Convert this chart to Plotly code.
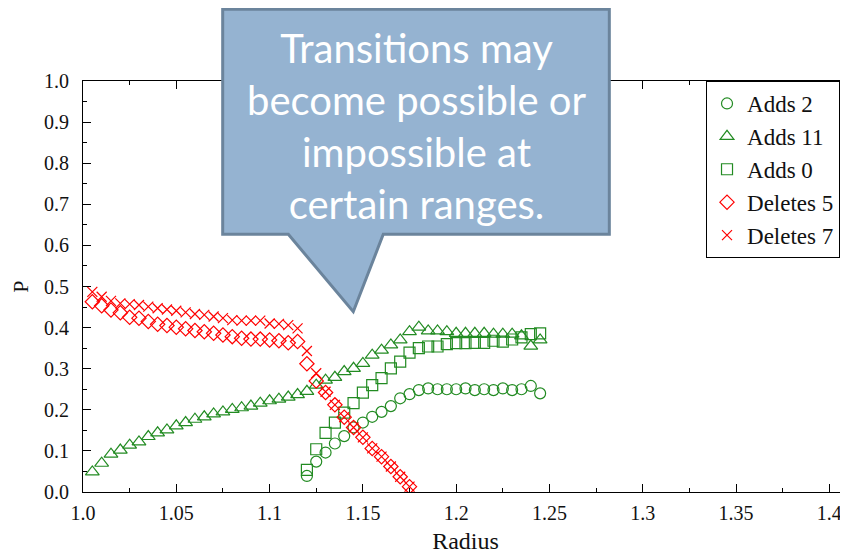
import plotly.graph_objects as go

# ---- data ----
x_adds11 = [round(1.005 + 0.005 * i, 3) for i in range(49)]
adds11 = [0.049, 0.070, 0.092, 0.102, 0.114, 0.122, 0.135, 0.144, 0.151, 0.161,
          0.169, 0.177, 0.183, 0.190, 0.195, 0.201, 0.205, 0.209, 0.216, 0.222,
          0.226, 0.231, 0.237, 0.245, 0.260, 0.272, 0.279, 0.293, 0.301, 0.313,
          0.333, 0.345, 0.358, 0.370, 0.390, 0.401, 0.392, 0.392, 0.390, 0.386,
          0.386, 0.386, 0.386, 0.384, 0.384, 0.384, 0.380, 0.355, 0.370]

x_adds = [round(1.120 + 0.005 * i, 3) for i in range(26)]
adds2 = [0.039, 0.074, 0.096, 0.118, 0.136, 0.157, 0.169, 0.183, 0.195, 0.209,
         0.228, 0.238, 0.248, 0.252, 0.250, 0.250, 0.250, 0.252, 0.248, 0.250,
         0.248, 0.252, 0.248, 0.250, 0.258, 0.240]
adds0 = [0.054, 0.104, 0.144, 0.169, 0.193, 0.216, 0.242, 0.260, 0.277, 0.301,
         0.317, 0.339, 0.350, 0.354, 0.354, 0.360, 0.362, 0.362, 0.363, 0.363,
         0.368, 0.366, 0.371, 0.376, 0.384, 0.386]

x_del = [round(1.005 + 0.005 * i, 3) for i in range(35)]
deletes5 = [0.463, 0.453, 0.443, 0.436, 0.425, 0.423, 0.415, 0.408, 0.405, 0.401,
            0.397, 0.393, 0.390, 0.386, 0.382, 0.378, 0.374, 0.372, 0.372, 0.370,
            0.368, 0.363, 0.366, 0.312, 0.270, 0.242, 0.212, 0.182, 0.157, 0.133,
            0.106, 0.086, 0.062, 0.037, 0.013]
deletes7 = [0.487, 0.475, 0.465, 0.459, 0.457, 0.455, 0.451, 0.447, 0.444, 0.441,
            0.437, 0.433, 0.431, 0.427, 0.423, 0.418, 0.417, 0.417, 0.417, 0.410,
            0.409, 0.406, 0.398, 0.343, 0.289, 0.244, 0.212, 0.182, 0.157, 0.133,
            0.106, 0.086, 0.062, 0.037, 0.013]

x_ticks = [1.0, 1.05, 1.1, 1.15, 1.2, 1.25, 1.3, 1.35, 1.4]
x_ticklabels = ["1.0", "1.05", "1.1", "1.15", "1.2", "1.25", "1.3", "1.35", "1.4"]
y_ticks = [0.0, 0.1, 0.2, 0.3, 0.4, 0.5, 0.6, 0.7, 0.8, 0.9, 1.0]
y_ticklabels = ["0.0", "0.1", "0.2", "0.3", "0.4", "0.5", "0.6", "0.7", "0.8", "0.9", "1.0"]

callout_text = "Transitions may<br>become possible or<br>impossible at<br>certain ranges."

GREEN = "#228B22"
RED = "#FF0000"
SERIF = "Liberation Serif, Times New Roman, serif"

fig = go.Figure()

def add(name, xs, ys, symbol, color, size):
    fig.add_trace(go.Scatter(
        x=xs, y=ys, mode="markers", name=name,
        marker=dict(symbol=symbol, color=color, size=size,
                    line=dict(color=color, width=1.2)),
    ))

add("Adds 2", x_adds, adds2, "circle-open", GREEN, 11)
add("Adds 11", x_adds11, adds11, "triangle-up-open", GREEN, 12)
add("Adds 0", x_adds, adds0, "square-open", GREEN, 11)
add("Deletes 5", x_del, deletes5, "diamond-open", RED, 11)
add("Deletes 7", x_del, deletes7, "x-thin-open", RED, 10)

# callout balloon (paper coordinates)
L, R, T, B = 0.1826, 0.688, 1.1745, 0.627
bl, br, tx, ty = 0.2684, 0.3925, 0.3533, 0.4387
path = f"M {L},{T} L {R},{T} L {R},{B} L {br},{B} L {tx},{ty} L {bl},{B} L {L},{B} Z"
fig.add_shape(type="path", path=path, xref="paper", yref="paper",
              fillcolor="#95B3D1", line=dict(color="#6B849C", width=3),
              layer="above")
fig.add_annotation(text=callout_text, xref="paper", yref="paper",
                   x=0.4353, y=0.8917, xanchor="center", yanchor="middle",
                   showarrow=False,
                   font=dict(family="Lato, Open Sans, sans-serif", size=40, color="white"))

axis_common = dict(
    showline=True, linecolor="black", linewidth=1, mirror="ticks",
    ticks="inside", ticklen=8, tickcolor="black", showgrid=False, zeroline=False,
    tickfont=dict(family=SERIF, size=20, color="#111"),
)

fig.update_xaxes(
    range=[1.0, 1.41], tickvals=x_ticks, ticktext=x_ticklabels,
    ticklabelstandoff=3,
    minor=dict(dtick=0.025, tick0=1.0, ticks="inside", ticklen=4, tickcolor="black"),
    title=dict(text="Radius", font=dict(family=SERIF, size=24, color="#111"), standoff=9),
    **axis_common,
)
fig.update_yaxes(
    range=[0, 1.0], tickvals=y_ticks, ticktext=y_ticklabels,
    ticklabelstandoff=9,
    minor=dict(dtick=0.05, tick0=0, ticks="inside", ticklen=4, tickcolor="black"),
    title=dict(text="P", font=dict(family=SERIF, size=22, color="#111"), standoff=13),
    **axis_common,
)

# page body has an 8px margin: figure is 840x549 placed at (8,8)
fig.update_layout(
    width=840, height=549,
    margin=dict(l=75, r=0, t=73, b=65),
    plot_bgcolor="white", paper_bgcolor="white",
    showlegend=True,
    legend=dict(x=0.8144, y=1, xanchor="left", yanchor="top",
                bordercolor="black", borderwidth=1, bgcolor="white",
                font=dict(family=SERIF, size=23, color="#111"),
                itemwidth=30),
)

fig.write_html("out.html")
